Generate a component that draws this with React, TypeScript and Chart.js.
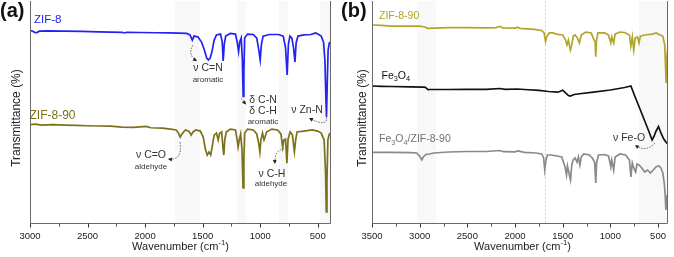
import React, { useEffect, useRef } from "react";
import { Chart, registerables } from "chart.js";

Chart.register(...registerables);

const FONT = '"Liberation Sans", Arial, Helvetica, sans-serif';

// ---------- axes ----------
const TICKS_A = [3000, 2500, 2000, 1500, 1000, 500];
const MINOR_A = [2750, 2250, 1750, 1250, 750];
const RANGE_A = [385, 3000];
const BANDS_A = [
  [1740, 1525],
  [1205, 1120],
  [838, 758],
  [483, 385],
];

const TICKS_B = [3500, 3000, 2500, 2000, 1500, 1000, 500];
const MINOR_B = [3250, 2750, 2250, 1750, 1250, 750];
const RANGE_B = [394, 3500];
const BANDS_B = [
  [3030, 2825],
  [700, 394],
];
const GUIDES_B = [1690];

// ---------- spectra: [wavenumber (cm-1), transmittance (offset, %)] ----------
const ZIF8_A: [number, number][] = [
  [3000, 86.7], [2980, 86.5], [2960, 85.9], [2940, 85.8], [2920, 86.4], [2850, 86.5],
  [2700, 86.4], [2550, 86.3], [2400, 86.1], [2300, 86.0], [2200, 85.9], [2180, 85.6],
  [2160, 85.9], [2050, 85.8], [1900, 85.7], [1800, 85.6], [1700, 85.5], [1640, 85.4],
  [1610, 84.7], [1590, 82.4], [1575, 84.2], [1540, 83.8], [1510, 81.5], [1485, 77.9],
  [1465, 74.3], [1450, 73.4], [1435, 74.3], [1420, 77.0], [1400, 82.4], [1380, 84.7],
  [1345, 85.1], [1330, 81.5], [1322, 73.0], [1312, 80.6], [1300, 84.2], [1260, 85.4],
  [1215, 85.1], [1200, 81.5], [1188, 77.2], [1178, 81.5], [1165, 83.3], [1155, 73.4],
  [1148, 57.0], [1142, 68.0], [1135, 83.3], [1110, 85.1], [1060, 84.9], [1030, 83.3],
  [1012, 77.9], [1000, 73.4], [990, 80.2], [975, 84.2], [920, 84.9], [840, 84.9],
  [800, 84.2], [780, 79.0], [766, 66.7], [755, 80.5], [742, 84.2], [725, 83.3],
  [710, 78.8], [698, 72.5], [688, 81.1], [672, 84.2], [620, 84.7], [560, 84.9],
  [520, 85.6], [500, 85.1], [470, 84.2], [450, 81.5], [438, 73.4], [430, 57.6],
  [424, 47.8], [418, 62.2], [410, 77.9], [400, 81.1], [385, 81.7],
];

const ZIF890_A: [number, number][] = [
  [3000, 44.3], [2950, 44.5], [2900, 44.1], [2800, 44.3], [2700, 44.1], [2600, 44.0],
  [2500, 43.8], [2400, 43.7], [2300, 43.6], [2200, 43.2], [2100, 43.1], [1990, 43.5],
  [1950, 42.9], [1850, 42.7], [1780, 42.3], [1730, 41.9], [1710, 40.5], [1695, 38.7],
  [1680, 40.1], [1650, 41.9], [1620, 41.4], [1600, 39.6], [1585, 41.0], [1560, 41.9],
  [1520, 41.4], [1495, 38.7], [1475, 32.9], [1460, 30.6], [1445, 32.0], [1430, 30.6],
  [1415, 35.1], [1400, 39.6], [1380, 40.5], [1365, 37.4], [1352, 40.5], [1335, 41.0],
  [1322, 32.9], [1316, 30.6], [1308, 37.4], [1295, 41.0], [1260, 42.3], [1215, 41.9],
  [1200, 37.4], [1192, 34.2], [1182, 37.4], [1170, 40.1], [1158, 32.9], [1149, 15.8],
  [1142, 28.4], [1135, 40.5], [1110, 42.3], [1060, 41.9], [1030, 40.1], [1012, 35.6],
  [1003, 32.0], [994, 37.4], [980, 40.5], [967, 37.4], [958, 38.7], [945, 41.0],
  [900, 42.3], [850, 41.9], [820, 40.1], [805, 34.2], [795, 37.4], [780, 37.8],
  [768, 26.9], [758, 37.8], [740, 41.0], [720, 39.6], [703, 32.1], [692, 37.4],
  [680, 41.0], [620, 41.4], [550, 41.9], [500, 41.4], [470, 40.5], [445, 37.4],
  [433, 23.9], [426, 5.0], [420, 19.4], [412, 37.4], [400, 40.1], [385, 40.5],
];

const ZIF890_B: [number, number][] = [
  [3500, 89.2], [3400, 89.0], [3300, 88.7], [3000, 88.7], [2940, 88.3], [2920, 87.7],
  [2850, 87.8], [2700, 88.0], [2500, 88.0], [2300, 87.9], [2200, 88.0], [2160, 88.6],
  [2130, 87.9], [2000, 87.8], [1970, 88.2], [1950, 87.7], [1800, 87.2], [1720, 86.7],
  [1695, 85.6], [1680, 81.7], [1665, 84.2], [1640, 85.6], [1600, 85.6], [1570, 85.1],
  [1500, 84.7], [1470, 82.4], [1455, 80.2], [1440, 82.4], [1420, 77.9], [1405, 80.2],
  [1390, 84.2], [1370, 84.7], [1345, 83.3], [1325, 81.1], [1305, 84.7], [1260, 86.0],
  [1200, 85.6], [1180, 83.3], [1160, 81.5], [1153, 74.9], [1145, 82.4], [1130, 85.6],
  [1060, 85.6], [1020, 84.7], [1005, 82.4], [995, 81.1], [985, 83.8], [965, 81.1],
  [950, 85.1], [900, 86.0], [850, 85.8], [800, 84.7], [785, 79.7], [770, 83.8],
  [755, 77.9], [740, 83.3], [715, 83.8], [700, 81.1], [685, 84.2], [640, 84.7],
  [560, 85.1], [520, 85.6], [480, 84.7], [450, 84.2], [430, 80.2], [420, 68.9],
  [415, 63.4], [410, 73.4], [394, 80.2],
];

const FE3O4_B: [number, number][] = [
  [3500, 61.72], [3400, 61.58], [3300, 61.49], [3100, 61.36], [2960, 61.18], [2940, 61.13],
  [2910, 60.01], [2900, 60.14], [2700, 60.14], [2500, 60.23], [2300, 60.23], [2160, 60.59],
  [2100, 60.23], [1980, 60.37], [1900, 60.14], [1750, 59.78], [1650, 59.24], [1550, 58.93],
  [1500, 59.83], [1470, 58.57], [1440, 57.44], [1420, 57.21], [1380, 57.89], [1300, 58.34],
  [1200, 58.88], [1000, 59.92], [850, 61.04], [785, 61.72], [740, 56.76], [700, 52.48],
  [650, 47.08], [600, 41.67], [562, 37.39], [545, 38.74], [520, 41.45], [495, 43.47],
  [470, 40.55], [440, 37.84], [410, 36.04], [394, 35.59],
];

const FEZIF_B: [number, number][] = [
  [3500, 31.85], [3300, 31.85], [3100, 31.67], [3030, 31.54], [2995, 29.73], [2978, 28.38],
  [2962, 29.73], [2935, 30.86], [2900, 31.08], [2850, 31.54], [2700, 31.99], [2500, 32.21],
  [2300, 32.21], [2160, 32.66], [2120, 32.12], [2000, 32.08], [1970, 32.44], [1900, 31.85],
  [1780, 31.54], [1720, 31.08], [1700, 29.28], [1688, 23.87], [1675, 28.38], [1660, 30.63],
  [1620, 30.63], [1560, 30.18], [1510, 29.73], [1475, 25.23], [1460, 21.62], [1450, 25.68],
  [1430, 21.62], [1418, 19.37], [1405, 26.13], [1390, 28.38], [1370, 29.28], [1350, 27.48],
  [1335, 29.73], [1320, 26.13], [1305, 29.73], [1280, 31.08], [1220, 30.63], [1190, 29.28],
  [1165, 27.48], [1153, 18.02], [1145, 27.03], [1125, 30.63], [1060, 30.86], [1020, 30.18],
  [1005, 27.48], [995, 25.23], [985, 28.38], [965, 23.87], [950, 29.73], [900, 31.08],
  [840, 30.63], [800, 28.38], [785, 20.72], [770, 27.03], [755, 24.78], [735, 22.98],
  [720, 26.58], [700, 26.13], [670, 24.78], [640, 22.98], [610, 23.87], [580, 22.53],
  [550, 23.87], [520, 25.36], [490, 25.68], [470, 24.8], [450, 22.5], [435, 18.0],
  [425, 12.61], [418, 5.86], [410, 10.36], [394, 12.61],
];

// ---------- colours ----------
const BLUE = "#2222f2";
const OLIVE = "#7a7219";
const OLIVE_LIGHT = "#b2a52c";
const BLACK = "#111111";
const GREY = "#8a8a8a";
const NOTE = "#333333";

type Seg = { t: string; sub?: boolean; sup?: boolean };
type TextItem = {
  segs: Seg[];
  x: number;
  y: number;
  size: number;
  color: string;
  bold?: boolean;
  align?: "left" | "center";
  rotate?: boolean;
};
type ArrowItem = { from: [number, number]; ctrl: [number, number]; to: [number, number] };

type PanelSpec = {
  left: number;
  width: number;
  padLeft: number;
  padRight: number;
  range: number[];
  ticks: number[];
  minor: number[];
  bands: number[][];
  guides: number[];
  series: { data: [number, number][]; color: string }[];
  texts: TextItem[];
  arrows: ArrowItem[];
};

const T = (t: string): Seg => ({ t });

function drawRich(ctx: CanvasRenderingContext2D, item: TextItem, offsetX: number) {
  const font = (s: number) => `${item.bold ? "bold " : ""}${s}px ${FONT}`;
  let w = 0;
  const parts = item.segs.map((s) => {
    const sz = s.sub || s.sup ? item.size * 0.7 : item.size;
    ctx.font = font(sz);
    const mw = ctx.measureText(s.t).width;
    w += mw;
    return { s, sz, mw };
  });
  ctx.save();
  ctx.translate(item.x - offsetX, item.y);
  if (item.rotate) ctx.rotate(-Math.PI / 2);
  let cx = item.align === "center" ? -w / 2 : 0;
  ctx.fillStyle = item.color;
  ctx.textBaseline = "middle";
  ctx.textAlign = "left";
  for (const p of parts) {
    ctx.font = font(p.sz);
    const dy = p.s.sub ? item.size * 0.3 : p.s.sup ? -item.size * 0.36 : 0;
    ctx.fillText(p.s.t, cx, dy);
    cx += p.mw;
  }
  ctx.restore();
}

function drawArrow(ctx: CanvasRenderingContext2D, a: ArrowItem, offsetX: number) {
  const fx = a.from[0] - offsetX, fy = a.from[1];
  const cx = a.ctrl[0] - offsetX, cy = a.ctrl[1];
  const tx = a.to[0] - offsetX, ty = a.to[1];
  ctx.save();
  ctx.strokeStyle = "#555";
  ctx.lineWidth = 0.9;
  ctx.setLineDash([1.5, 1.3]);
  ctx.beginPath();
  ctx.moveTo(fx, fy);
  ctx.quadraticCurveTo(cx, cy, tx, ty);
  ctx.stroke();
  const ang = Math.atan2(ty - cy, tx - cx);
  const L = 4, W = 2;
  const bx = tx - Math.cos(ang) * L, by = ty - Math.sin(ang) * L;
  ctx.setLineDash([]);
  ctx.fillStyle = "#222";
  ctx.beginPath();
  ctx.moveTo(tx, ty);
  ctx.lineTo(bx - Math.sin(ang) * W, by + Math.cos(ang) * W);
  ctx.lineTo(bx + Math.sin(ang) * W, by - Math.cos(ang) * W);
  ctx.closePath();
  ctx.fill();
  ctx.restore();
}

function makeDecor(spec: PanelSpec) {
  return {
    id: "panelDecor",
    beforeDatasetsDraw(chart: any) {
      const { ctx, chartArea: ca } = chart;
      const x = chart.scales.x;
      ctx.save();
      ctx.fillStyle = "rgba(0,0,0,0.028)";
      for (const [a, b] of spec.bands) {
        const x1 = x.getPixelForValue(a), x2 = x.getPixelForValue(b);
        ctx.fillRect(Math.min(x1, x2), ca.top, Math.abs(x2 - x1), ca.bottom - ca.top);
      }
      ctx.strokeStyle = "#c8c8c8";
      ctx.lineWidth = 0.8;
      ctx.setLineDash([2, 2]);
      for (const g of spec.guides) {
        const gx = Math.round(x.getPixelForValue(g)) + 0.5;
        ctx.beginPath();
        ctx.moveTo(gx, ca.top);
        ctx.lineTo(gx, ca.bottom);
        ctx.stroke();
      }
      ctx.restore();
    },
    afterDraw(chart: any) {
      const { ctx, chartArea: ca } = chart;
      const x = chart.scales.x;
      ctx.save();
      ctx.strokeStyle = "#6a6a6a";
      ctx.lineWidth = 1;
      const L = Math.round(ca.left) + 0.5;
      const R = Math.round(ca.right) - 0.5;
      const B = Math.round(ca.bottom) + 0.5;
      ctx.beginPath();
      ctx.moveTo(L, ca.top);
      ctx.lineTo(L, B);
      ctx.lineTo(R, B);
      ctx.lineTo(R, ca.top);
      ctx.stroke();
      ctx.strokeStyle = "#333";
      for (const v of spec.ticks) {
        const px = Math.round(x.getPixelForValue(v)) + 0.5;
        ctx.beginPath();
        ctx.moveTo(px, B);
        ctx.lineTo(px, B + 4);
        ctx.stroke();
      }
      ctx.strokeStyle = "#555";
      for (const v of spec.minor) {
        const px = Math.round(x.getPixelForValue(v)) + 0.5;
        ctx.beginPath();
        ctx.moveTo(px, B);
        ctx.lineTo(px, B + 3);
        ctx.stroke();
      }
      ctx.restore();
      for (const a of spec.arrows) drawArrow(ctx, a, spec.left);
      for (const t of spec.texts) drawRich(ctx, t, spec.left);
    },
  };
}

function buildConfig(spec: PanelSpec): any {
  return {
    type: "line",
    data: {
      datasets: spec.series.map((s) => ({
        data: s.data.map(([w, v]) => ({ x: w, y: v })),
        borderColor: s.color,
        borderWidth: 1.7,
        pointRadius: 0,
        tension: 0,
        fill: false,
      })),
    },
    plugins: [makeDecor(spec)],
    options: {
      animation: false,
      responsive: false,
      devicePixelRatio: 1,
      layout: { padding: { left: spec.padLeft, right: spec.padRight, top: 1, bottom: 0 } },
      plugins: { legend: { display: false }, tooltip: { enabled: false } },
      scales: {
        x: {
          type: "linear",
          reverse: true,
          min: spec.range[0],
          max: spec.range[1],
          grid: { display: false, drawTicks: false },
          border: { display: false },
          afterBuildTicks: (scale: any) => {
            scale.ticks = spec.ticks.map((v) => ({ value: v }));
          },
          afterFit: (scale: any) => {
            scale.height = 34;
          },
          ticks: {
            autoSkip: false,
            maxRotation: 0,
            padding: 8,
            color: "#222",
            font: { family: FONT, size: 9.5 },
            callback: (v: number) => String(v),
          },
        },
        y: { display: false, min: 0, max: 100 },
      },
    },
  };
}

const xTitle = (cx: number): TextItem => ({
  segs: [T("Wavenumber (cm"), { t: "-1", sup: true }, T(")")],
  x: cx,
  y: 246.5,
  size: 11,
  color: "#222",
  align: "center",
});
const yTitle = (cx: number): TextItem => ({
  segs: [T("Transmittance (%)")],
  x: cx,
  y: 118,
  size: 12,
  color: "#222",
  align: "center",
  rotate: true,
});

const PANEL_A: PanelSpec = {
  left: 0,
  width: 337,
  padLeft: 30,
  padRight: 6,
  range: RANGE_A,
  ticks: TICKS_A,
  minor: MINOR_A,
  bands: BANDS_A,
  guides: [],
  series: [
    { data: ZIF8_A, color: BLUE },
    { data: ZIF890_A, color: OLIVE },
  ],
  texts: [
    { segs: [T("(a)")], x: 0, y: 11, size: 20, color: "#111", bold: true },
    { segs: [T("ZIF-8")], x: 34, y: 20, size: 11.5, color: BLUE },
    { segs: [T("ZIF-8-90")], x: 29.5, y: 116, size: 12, color: OLIVE },
    { segs: [T("ν C=N")], x: 208, y: 68.5, size: 10.5, color: NOTE, align: "center" },
    { segs: [T("aromatic")], x: 208, y: 79.5, size: 8, color: NOTE, align: "center" },
    { segs: [T("δ C-N")], x: 263, y: 100.5, size: 10.5, color: NOTE, align: "center" },
    { segs: [T("δ C-H")], x: 263, y: 111, size: 10.5, color: NOTE, align: "center" },
    { segs: [T("aromatic")], x: 263, y: 121.5, size: 8, color: NOTE, align: "center" },
    { segs: [T("ν Zn-N")], x: 307, y: 110, size: 10.5, color: NOTE, align: "center" },
    { segs: [T("ν C=O")], x: 151, y: 155, size: 10.5, color: NOTE, align: "center" },
    { segs: [T("aldehyde")], x: 151, y: 166.5, size: 8, color: NOTE, align: "center" },
    { segs: [T("ν C-H")], x: 272, y: 174, size: 10.5, color: NOTE, align: "center" },
    { segs: [T("aldehyde")], x: 271, y: 183.5, size: 8, color: NOTE, align: "center" },
    yTitle(17),
    xTitle(180.5),
  ],
  arrows: [
    { from: [193, 45], ctrl: [187, 55], to: [197, 61] },
    { from: [241.5, 98.5], ctrl: [243, 101], to: [246, 104.5] },
    { from: [326, 114], ctrl: [330, 129], to: [309, 118] },
    { from: [180, 142], ctrl: [183, 161], to: [168, 159] },
    { from: [284, 149], ctrl: [274, 150], to: [275, 164] },
  ],
};

const PANEL_B: PanelSpec = {
  left: 337,
  width: 337,
  padLeft: 35,
  padRight: 1,
  range: RANGE_B,
  ticks: TICKS_B,
  minor: MINOR_B,
  bands: BANDS_B,
  guides: GUIDES_B,
  series: [
    { data: ZIF890_B, color: OLIVE_LIGHT },
    { data: FE3O4_B, color: BLACK },
    { data: FEZIF_B, color: GREY },
  ],
  texts: [
    { segs: [T("(b)")], x: 341, y: 11.5, size: 20, color: "#111", bold: true },
    { segs: [T("ZIF-8-90")], x: 379, y: 16, size: 10.5, color: OLIVE_LIGHT },
    {
      segs: [T("Fe"), { t: "3", sub: true }, T("O"), { t: "4", sub: true }],
      x: 381.5,
      y: 76,
      size: 10.5,
      color: BLACK,
    },
    {
      segs: [T("Fe"), { t: "3", sub: true }, T("O"), { t: "4", sub: true }, T("/ZIF-8-90")],
      x: 379,
      y: 139.5,
      size: 10.5,
      color: "#707070",
    },
    { segs: [T("ν Fe-O")], x: 629, y: 138.5, size: 10.5, color: NOTE, align: "center" },
    yTitle(363),
    xTitle(522.5),
  ],
  arrows: [{ from: [655, 143], ctrl: [646, 153], to: [635, 145] }],
};

function Panel({ spec }: { spec: PanelSpec }) {
  const ref = useRef<HTMLCanvasElement>(null);
  useEffect(() => {
    const chart = new Chart(ref.current as HTMLCanvasElement, buildConfig(spec));
    return () => chart.destroy();
  }, [spec]);
  return (
    <canvas
      ref={ref}
      width={spec.width}
      height={257}
      style={{ position: "absolute", left: spec.left, top: 0, width: spec.width, height: 257 }}
    />
  );
}

export default function App() {
  return (
    <div
      style={{
        position: "absolute",
        left: 0,
        top: 0,
        width: 674,
        height: 257,
        background: "#fff",
        overflow: "hidden",
      }}
    >
      <Panel spec={PANEL_A} />
      <Panel spec={PANEL_B} />
    </div>
  );
}
